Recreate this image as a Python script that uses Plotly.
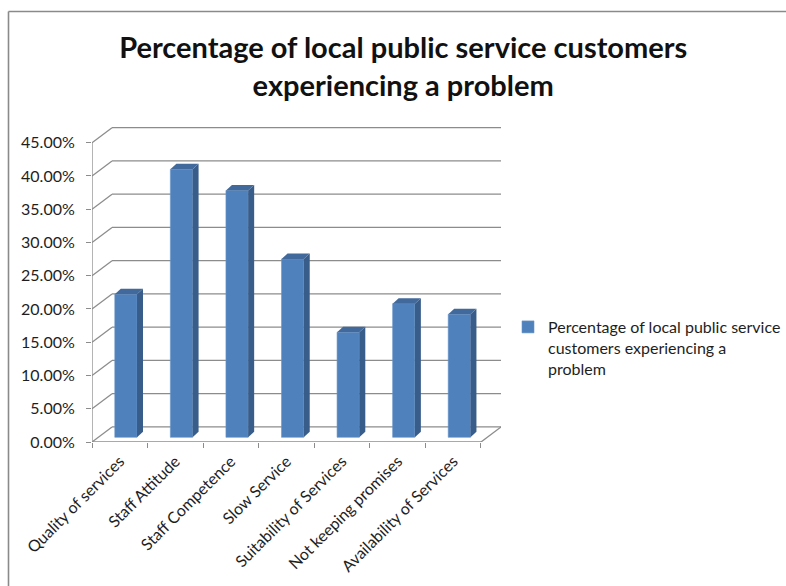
import plotly.graph_objects as go

# Survey results: share of customers reporting each type of problem
categories = [
    "Quality of services",
    "Staff Attitude",
    "Staff Competence",
    "Slow Service",
    "Suitability of Services",
    "Not keeping promises",
    "Availability of Services",
]
values = [0.215, 0.403, 0.371, 0.268, 0.158, 0.201, 0.185]
y_ticks = [0.00, 0.05, 0.10, 0.15, 0.20, 0.25, 0.30, 0.35, 0.40, 0.45]
series_name = "Percentage of local public service<br>customers experiencing a<br>problem"
title_text = "Percentage of local public service customers<br>experiencing a problem"

# Pseudo-3D geometry, expressed in axis units
WALL_DX, WALL_DY = 0.36, 0.0226      # offset of the back wall from the front plane
BAR_DX, BAR_DY = 0.108, 0.0083       # depth of each column
BAR_BASE = 0.007                     # columns stand slightly behind the front edge
BAR_OFFSET, BAR_WIDTH = -0.09, 0.40
X_MIN = -0.5
X_MAX = len(categories) - 0.5 + WALL_DX
Y_MAX = y_ticks[-1] + WALL_DY + 0.0025

FRONT = "#4F81BD"
SIDE = "#385D8A"
TOP = "#41699B"
GRID = "#8C8C8C"
FONT = "Lato"
TEXT = "#1E1E1E"

W, H = 786, 586

fig = go.Figure()

fig.add_trace(go.Bar(
    x=categories,
    y=values,
    base=BAR_BASE,
    width=BAR_WIDTH,
    offset=BAR_OFFSET,
    marker=dict(color=FRONT, line=dict(color="#6A95C8", width=0.6)),
    name=series_name,
    showlegend=True,
    hovertemplate="%{x}: %{y:.1%}<extra></extra>",
))

shapes = []

# Back wall gridlines and the diagonals on the side wall
for v in y_ticks:
    shapes.append(dict(type="line", xref="x", yref="y", layer="below",
                       x0=X_MIN + WALL_DX, x1=X_MAX, y0=v + WALL_DY, y1=v + WALL_DY,
                       line=dict(color=GRID, width=1.3)))
    shapes.append(dict(type="line", xref="x", yref="y", layer="below",
                       x0=X_MIN, x1=X_MIN + WALL_DX, y0=v, y1=v + WALL_DY,
                       line=dict(color=GRID, width=1.3)))

# Floor: front edge and right-hand diagonal
x_end = len(categories) - 0.5
shapes.append(dict(type="line", xref="x", yref="y", layer="below",
                   x0=X_MIN, x1=x_end, y0=0, y1=0,
                   line=dict(color=GRID, width=1.3)))
shapes.append(dict(type="line", xref="x", yref="y", layer="below",
                   x0=x_end, x1=x_end + WALL_DX, y0=0, y1=WALL_DY,
                   line=dict(color=GRID, width=1.3)))

# Front value axis line
shapes.append(dict(type="line", xref="x", yref="y", layer="below",
                   x0=X_MIN, x1=X_MIN, y0=0, y1=y_ticks[-1],
                   line=dict(color=GRID, width=1.3)))

# Column sides and tops
for i, v in enumerate(values):
    xl = i + BAR_OFFSET
    xr = xl + BAR_WIDTH
    y0 = BAR_BASE
    y1 = BAR_BASE + v
    side = (f"M {xr} {y0} L {xr + BAR_DX} {y0 + BAR_DY} "
            f"L {xr + BAR_DX} {y1 + BAR_DY} L {xr} {y1} Z")
    top = (f"M {xl} {y1} L {xr} {y1} L {xr + BAR_DX} {y1 + BAR_DY} "
           f"L {xl + BAR_DX} {y1 + BAR_DY} Z")
    shapes.append(dict(type="path", xref="x", yref="y", layer="above", path=side,
                       fillcolor=SIDE, line=dict(width=0)))
    shapes.append(dict(type="path", xref="x", yref="y", layer="above", path=top,
                       fillcolor=TOP, line=dict(width=0)))

# Chart frame (left and top edges)
PL, PT, PW, PH = 92, 126, 409, 316
def px_to_paper(px, py):
    return (px - PL) / PW, (PT + PH - py) / PH

fx0, fy0 = px_to_paper(8.5, 11.5)
fx1, fy1 = px_to_paper(800, 600)
shapes.append(dict(type="line", xref="paper", yref="paper",
                   x0=fx0, x1=fx0, y0=fy0, y1=fy1,
                   line=dict(color="#8A8A8A", width=1.6)))
shapes.append(dict(type="line", xref="paper", yref="paper",
                   x0=fx0, x1=fx1, y0=fy0, y1=fy0,
                   line=dict(color="#8A8A8A", width=1.6)))

fig.update_layout(
    width=W,
    height=H,
    margin=dict(l=PL, r=W - PL - PW, t=PT, b=H - PT - PH, autoexpand=False),
    paper_bgcolor="white",
    plot_bgcolor="white",
    font=dict(family=FONT, color=TEXT, size=16),
    title=dict(text=title_text, x=0.513, xref="container", xanchor="center",
               y=1 - 58 / H, yref="container", yanchor="top",
               font=dict(family=FONT, size=29, color="#111111", weight="bold")),
    shapes=shapes,
    bargap=0.6,
    showlegend=True,
    legend=dict(x=508 / W, y=1 - 310 / H, xref="container", yref="container",
                xanchor="left", yanchor="top", valign="top",
                font=dict(family=FONT, size=16, color=TEXT),
                itemwidth=30, bgcolor="rgba(0,0,0,0)"),
    xaxis=dict(
        type="category",
        range=[X_MIN, X_MAX],
        tickson="boundaries",
        ticks="outside",
        ticklen=5,
        tickcolor=GRID,
        tickwidth=1.3,
        tickangle=-45,
        ticklabelstandoff=6,
        showgrid=False,
        showline=False,
        zeroline=False,
        automargin=False,
        tickfont=dict(family=FONT, size=16, color=TEXT),
        fixedrange=True,
    ),
    yaxis=dict(
        range=[0, Y_MAX],
        tickvals=y_ticks,
        tickformat=".2%",
        ticks="outside",
        ticklen=5,
        tickcolor=GRID,
        tickwidth=1.3,
        ticklabelstandoff=8,
        showgrid=False,
        showline=False,
        zeroline=False,
        automargin=False,
        tickfont=dict(family=FONT, size=16, color=TEXT),
        fixedrange=True,
    ),
)

fig.write_html("out.html")
